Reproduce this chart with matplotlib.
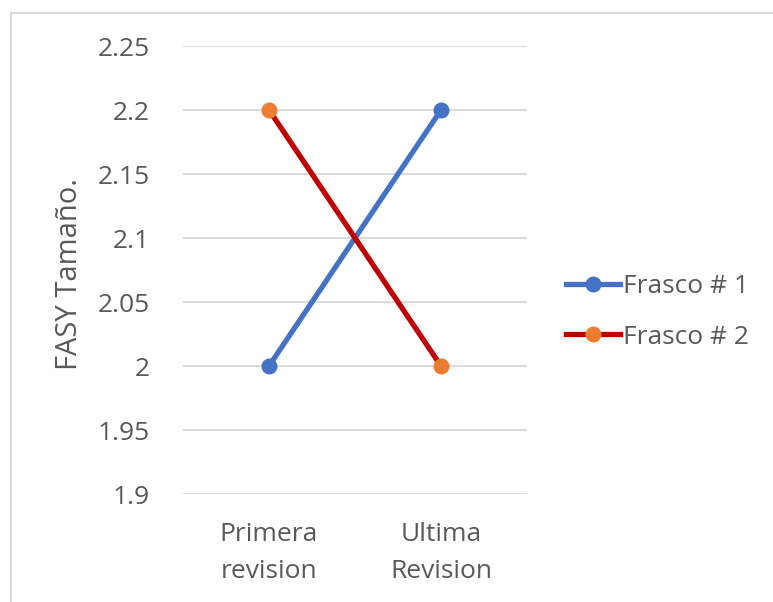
import matplotlib.pyplot as plt
from matplotlib.lines import Line2D

# Datos de las revisiones
revisiones = ['Primera\nrevision', 'Ultima\nRevision']
frasco_1 = [2.0, 2.2]
frasco_2 = [2.2, 2.0]
y_ticks = [1.9, 1.95, 2.0, 2.05, 2.1, 2.15, 2.2, 2.25]
y_tick_labels = ['1.9', '1.95', '2', '2.05', '2.1', '2.15', '2.2', '2.25']

TEXT = '#595959'
GRID = '#D9D9D9'
FS = 19
plt.rcParams['font.family'] = ['Open Sans', 'DejaVu Sans']

fig = plt.figure(figsize=(7.73, 6.02), dpi=100)
ax = fig.add_axes([183 / 773, 1 - 494 / 602, 344 / 773, 448 / 602])

x = range(len(revisiones))
ax.plot(x, frasco_1, color='#4472C4', lw=3.8, marker='o', ms=10.5,
        mfc='#4472C4', mec='#4472C4', label='Frasco # 1', zorder=3)
ax.plot(x, frasco_2, color='#C00000', lw=3.8, marker='o', ms=10.5,
        mfc='#ED7D31', mec='#ED7D31', label='Frasco # 2', zorder=3)

ax.set_xlim(-0.5, 1.5)
ax.set_ylim(1.9, 2.25)
ax.set_yticks(y_ticks)
ax.set_yticklabels(y_tick_labels)
ax.set_xticks(list(x))
ax.set_xticklabels(revisiones, linespacing=1.62)
ax.grid(axis='y', color=GRID, lw=1.3)
ax.set_axisbelow(True)
for s in ax.spines.values():
    s.set_visible(False)
ax.tick_params(length=0, labelsize=FS, colors=TEXT)
ax.tick_params(axis='y', pad=24)
ax.tick_params(axis='x', pad=20)
ax.set_ylabel('FASY Tamaño.', fontsize=21, color=TEXT)
ax.yaxis.set_label_coords((84 - 183) / 344, 0.49)

handles = [Line2D([], [], color='#4472C4', lw=3.8, marker='o', ms=10.5,
                  mfc='#4472C4', mec='#4472C4'),
           Line2D([], [], color='#C00000', lw=3.8, marker='o', ms=10.5,
                  mfc='#ED7D31', mec='#ED7D31')]
fig.legend(handles, ['Frasco # 1', 'Frasco # 2'], loc='center left',
           bbox_to_anchor=(566 / 773, 1 - 312 / 602), frameon=False,
           fontsize=FS, labelcolor=TEXT, handlelength=2.05, handletextpad=0.12,
           labelspacing=0.95, borderaxespad=0, borderpad=0)

# marco exterior del grafico
fig.add_artist(Line2D([11 / 773, 11 / 773], [0, 1 - 13 / 602],
                      transform=fig.transFigure, color=GRID, lw=1.5))
fig.add_artist(Line2D([11 / 773, 1], [1 - 13 / 602, 1 - 13 / 602],
                      transform=fig.transFigure, color=GRID, lw=1.5))

fig.savefig('out.png', dpi=100)
